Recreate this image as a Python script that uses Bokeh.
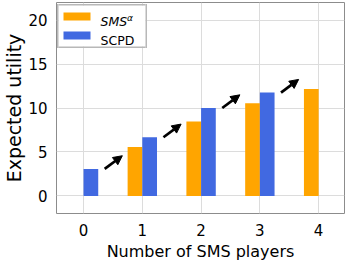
from bokeh.plotting import figure
from bokeh.models import (ColumnDataSource, FixedTicker, Arrow, NormalHead,
                          BoxAnnotation, Label, Range1d)
from bokeh.transform import dodge
from bokeh.embed import file_html
from bokeh.resources import INLINE

# ---- data ----
players = [0, 1, 2, 3, 4]
sms_players = [1, 2, 3, 4]
sms_utility = [5.56, 8.47, 10.55, 12.17]
scpd_players = [0, 1, 2, 3]
scpd_utility = [3.07, 6.67, 10.0, 11.75]
y_ticks = [0, 5, 10, 15, 20]
x_label = "Number of SMS players"
y_label = "Expected utility"
legend_sms = "SMS"
legend_sms_sup = "\u03b1"
legend_scpd = "SCPD"

# ---- style ----
FONT = "DejaVu Sans"
ORANGE = "#FFA500"
BLUE = "#4169E1"
BAR_W = 0.25
ARROW_X0 = 0.36
ARROW_DX = 0.30
ARROW_DY = 1.5
FW, FH = 288, 211

p = figure(frame_width=FW, frame_height=FH,
           x_range=Range1d(-0.46, 4.44), y_range=Range1d(-2, 22),
           output_backend="svg", toolbar_location=None,
           min_border_left=44, min_border_right=4, min_border_top=2,
           min_border_bottom=38)

sms_src = ColumnDataSource(dict(x=sms_players, top=sms_utility))
scpd_src = ColumnDataSource(dict(x=scpd_players, top=scpd_utility))
p.vbar(x=dodge("x", -BAR_W / 2, range=p.x_range), top="top", bottom=0,
       width=BAR_W, source=sms_src, fill_color=ORANGE, line_color=None)
p.vbar(x=dodge("x", BAR_W / 2, range=p.x_range), top="top", bottom=0,
       width=BAR_W, source=scpd_src, fill_color=BLUE, line_color=None)

arr_src = ColumnDataSource(dict(
    xs=[x + ARROW_X0 for x in scpd_players],
    ys=scpd_utility,
    xe=[x + ARROW_X0 + ARROW_DX for x in scpd_players],
    ye=[v + ARROW_DY for v in scpd_utility],
))
p.add_layout(Arrow(end=NormalHead(size=9, fill_color="black", line_color="black",
                                  line_width=1),
                   x_start="xs", y_start="ys", x_end="xe", y_end="ye",
                   source=arr_src, line_width=2.7, line_color="black"))

# axes
p.xaxis.ticker = FixedTicker(ticks=players)
p.yaxis.ticker = FixedTicker(ticks=y_ticks)
p.xaxis.axis_label = x_label
p.yaxis.axis_label = y_label
for ax in (p.xaxis, p.yaxis):
    ax.axis_line_color = None
    ax.major_tick_line_color = None
    ax.minor_tick_line_color = None
    ax.major_label_text_font = FONT
    ax.major_label_text_font_size = "15px"
    ax.major_label_text_color = "black"
    ax.axis_label_text_font = FONT
    ax.axis_label_text_font_style = "normal"
    ax.axis_label_text_color = "black"
    ax.major_label_standoff = 4
    ax.axis_label_standoff = 3
p.yaxis.major_label_standoff = 3
p.yaxis.axis_label_standoff = 0
p.xaxis.axis_label_text_font_size = "16px"
p.yaxis.axis_label_text_font_size = "19px"

p.grid.grid_line_color = "#dcdcdc"
p.grid.grid_line_width = 1
p.outline_line_color = "#8c8c8c"
p.outline_line_width = 1
p.background_fill_color = "white"
p.border_fill_color = "white"

# ---- legend (screen units, from frame bottom-left) ----
SCR = dict(left_units="screen", right_units="screen",
           top_units="screen", bottom_units="screen", line_color=None)
L, R, T, B = 2, 89, FH - 3, FH - 44
EDGE = "#b8b8b8"
W = 1.5
p.add_layout(BoxAnnotation(left=L, right=R, top=T, bottom=B,
                           fill_color="white", fill_alpha=1, **SCR))
for box in ((L, R, T + W, T), (L, R, B, B - W), (L - W, L, T + W, B - W),
            (R, R + W, T + W, B - W)):
    p.add_layout(BoxAnnotation(left=box[0], right=box[1], top=box[2],
                               bottom=box[3], fill_color=EDGE, fill_alpha=1, **SCR))
p.add_layout(BoxAnnotation(left=7, right=34, top=FH - 10, bottom=FH - 18,
                           fill_color=ORANGE, fill_alpha=1, **SCR))
p.add_layout(BoxAnnotation(left=7, right=34, top=FH - 29, bottom=FH - 37,
                           fill_color=BLUE, fill_alpha=1, **SCR))
p.add_layout(Label(x=44, y=FH - 19, x_units="screen", y_units="screen",
                   text=legend_sms, text_font=FONT, text_font_size="12.5px",
                   text_font_style="italic", text_baseline="alphabetic",
                   text_color="black"))
p.add_layout(Label(x=70.5, y=FH - 15, x_units="screen", y_units="screen",
                   text=legend_sms_sup, text_font=FONT, text_font_size="9px",
                   text_font_style="italic", text_baseline="alphabetic",
                   text_color="black"))
p.add_layout(Label(x=44, y=FH - 38, x_units="screen", y_units="screen",
                   text=legend_scpd, text_font=FONT, text_font_size="12.5px",
                   text_baseline="alphabetic", text_color="black"))

open("out.html", "w").write(file_html(p, INLINE))
